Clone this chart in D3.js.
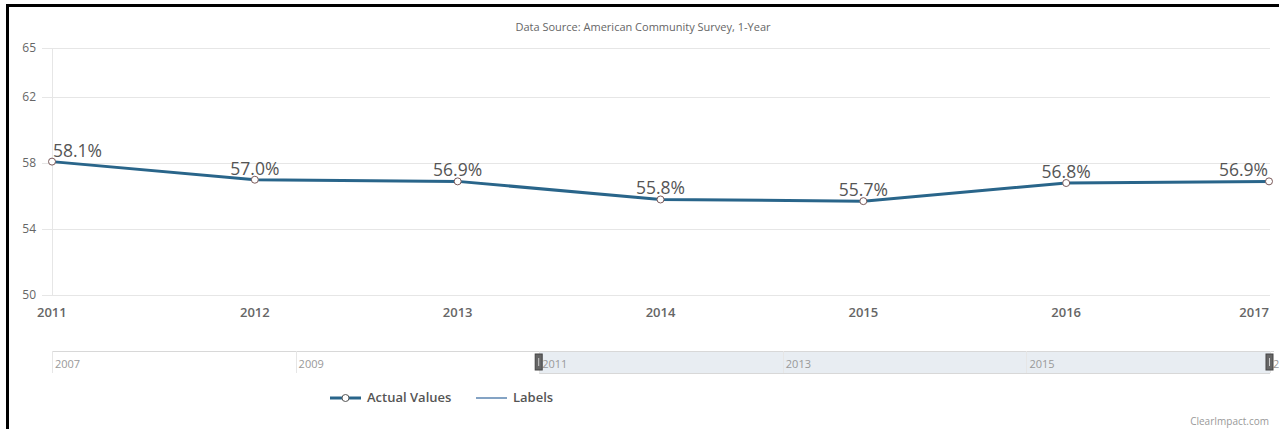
<!DOCTYPE html>
<html>
<head>
<meta charset="utf-8">
<script src="https://cdn.jsdelivr.net/npm/d3@7"></script>
<style>
  html, body { margin: 0; padding: 0; background: #fff; overflow: hidden; }
  svg { display: block; }
  svg text { font-family: "Open Sans", "Noto Sans", sans-serif; }
</style>
</head>
<body>
<div id="container"></div>
<script>
/* DATA */
const years = [2011, 2012, 2013, 2014, 2015, 2016, 2017];
const values = [58.1, 57.0, 56.9, 55.8, 55.7, 56.8, 56.9];
const yTicks = [50, 54, 58, 62, 65];
const navYears = [2007, 2009, 2011, 2013, 2015, 2017];
const navRange = [2011, 2017];
const title = "Data Source: American Community Survey, 1-Year";
const legendItems = ["Actual Values", "Labels"];

const width = 1279, height = 429;
const plot = {left: 52, right: 1269, top: 48, bottom: 295};

const svg = d3.select("#container").append("svg")
  .attr("width", width)
  .attr("height", height);

// frame (top and left edges only are visible)
svg.append("line")
  .attr("x1", 6).attr("x2", width).attr("y1", 5.5).attr("y2", 5.5)
  .attr("stroke", "#000").attr("stroke-width", 3);
svg.append("line")
  .attr("x1", 7.5).attr("x2", 7.5).attr("y1", 4).attr("y2", height)
  .attr("stroke", "#000").attr("stroke-width", 3);

// SCALES
const xScale = d3.scaleLinear()
  .domain(d3.extent(years))
  .range([plot.left, plot.right]);

const yScale = d3.scaleLinear()
  .domain([50, 65])
  .range([plot.bottom, plot.top]);

// title
svg.append("text")
  .attr("x", 643).attr("y", 31)
  .attr("text-anchor", "middle")
  .attr("font-size", 11)
  .attr("fill", "#666")
  .text(title);

// grid lines
svg.append("g").selectAll("line")
  .data(yTicks)
  .join("line")
  .attr("x1", 42).attr("x2", plot.right + 1)
  .attr("y1", d => Math.round(yScale(d)) + 0.5)
  .attr("y2", d => Math.round(yScale(d)) + 0.5)
  .attr("stroke", "#e6e6e6");

// y axis line
svg.append("line")
  .attr("x1", plot.left + 0.5).attr("x2", plot.left + 0.5)
  .attr("y1", plot.top).attr("y2", plot.bottom)
  .attr("stroke", "#e6e6e6");

// y labels
svg.append("g").selectAll("text")
  .data(yTicks)
  .join("text")
  .attr("x", 36)
  .attr("y", d => yScale(d) + 4)
  .attr("text-anchor", "end")
  .attr("font-size", 12)
  .attr("fill", "#666")
  .text(d => d);

// x labels
svg.append("g").selectAll("text")
  .data(years)
  .join("text")
  .attr("x", (d, i) => i === 0 ? xScale(d) - 15 : xScale(d))
  .attr("y", 317)
  .attr("text-anchor", (d, i) => i === 0 ? "start" : (i === years.length - 1 ? "end" : "middle"))
  .attr("font-size", 13)
  .attr("font-weight", 600)
  .attr("fill", "#666")
  .text(d => d);

// LINE
const data = years.map((y, i) => ({year: y, value: values[i]}));
const line = d3.line()
  .x(d => xScale(d.year))
  .y(d => yScale(d.value));

svg.append("path")
  .datum(data)
  .attr("d", line)
  .attr("fill", "none")
  .attr("stroke", "#29658a")
  .attr("stroke-width", 3);

svg.append("g").selectAll("circle")
  .data(data)
  .join("circle")
  .attr("cx", d => xScale(d.year))
  .attr("cy", d => yScale(d.value))
  .attr("r", 3.5)
  .attr("fill", "#fff")
  .attr("stroke", "#7a5a5a")
  .attr("stroke-width", 1);

// data labels
svg.append("g").selectAll("text")
  .data(data)
  .join("text")
  .attr("x", (d, i) => i === 0 ? xScale(d.year) + 1 : (i === data.length - 1 ? xScale(d.year) - 1 : xScale(d.year)))
  .attr("y", d => yScale(d.value) - 5)
  .attr("text-anchor", (d, i) => i === 0 ? "start" : (i === data.length - 1 ? "end" : "middle"))
  .attr("font-size", 17.5)
  .attr("font-weight", 500)
  .attr("fill", "#555")
  .text(d => d.value.toFixed(1) + "%");

// NAVIGATOR
const navX = d3.scaleLinear()
  .domain([2007, 2017])
  .range([52, 1270]);
const navTop = 351, navBottom = 373;

svg.append("rect")
  .attr("x", navX(navRange[0])).attr("y", navTop)
  .attr("width", navX(navRange[1]) - navX(navRange[0]))
  .attr("height", navBottom - navTop)
  .attr("fill", "#e8edf2");

svg.append("line")
  .attr("x1", 52).attr("x2", navX(2017) + 4)
  .attr("y1", navTop + 0.5).attr("y2", navTop + 0.5)
  .attr("stroke", "#d8d8d8");
svg.append("line")
  .attr("x1", navX(navRange[0])).attr("x2", navX(navRange[1]))
  .attr("y1", navBottom + 0.5).attr("y2", navBottom + 0.5)
  .attr("stroke", "#d8d8d8");

svg.append("g").selectAll("line")
  .data(navYears)
  .join("line")
  .attr("x1", d => Math.round(navX(d)) + 0.5)
  .attr("x2", d => Math.round(navX(d)) + 0.5)
  .attr("y1", navTop).attr("y2", navBottom)
  .attr("stroke", "#e6e6e6");

svg.append("g").selectAll("text")
  .data(navYears)
  .join("text")
  .attr("x", d => navX(d) + 3)
  .attr("y", 368)
  .attr("font-size", 11)
  .attr("fill", "#999")
  .text(d => d);

// handles
svg.append("g").selectAll("rect")
  .data(navRange)
  .join("rect")
  .attr("x", d => navX(d) - 4)
  .attr("y", 354)
  .attr("width", 7).attr("height", 16)
  .attr("fill", "#666").attr("stroke", "#444");
svg.append("g").selectAll("line")
  .data(navRange)
  .join("line")
  .attr("x1", d => navX(d) - 0.5).attr("x2", d => navX(d) - 0.5)
  .attr("y1", 358).attr("y2", 366)
  .attr("stroke", "#ccc");

// LEGEND
const legend = svg.append("g");
legend.append("line")
  .attr("x1", 330).attr("x2", 361).attr("y1", 398).attr("y2", 398)
  .attr("stroke", "#29658a").attr("stroke-width", 3);
legend.append("circle")
  .attr("cx", 345.5).attr("cy", 398).attr("r", 3.5)
  .attr("fill", "#fff").attr("stroke", "#555");
legend.append("text")
  .attr("x", 367).attr("y", 402)
  .attr("font-size", 13).attr("font-weight", 600).attr("fill", "#555")
  .text(legendItems[0]);
legend.append("line")
  .attr("x1", 476).attr("x2", 507).attr("y1", 398).attr("y2", 398)
  .attr("stroke", "#5b85b0").attr("stroke-width", 1.5);
legend.append("text")
  .attr("x", 513).attr("y", 402)
  .attr("font-size", 13).attr("font-weight", 600).attr("fill", "#555")
  .text(legendItems[1]);

// credits
svg.append("text")
  .attr("x", 1269).attr("y", 425)
  .attr("text-anchor", "end")
  .attr("font-size", 10)
  .attr("fill", "#999")
  .text("ClearImpact.com");
</script>
</body>
</html>
